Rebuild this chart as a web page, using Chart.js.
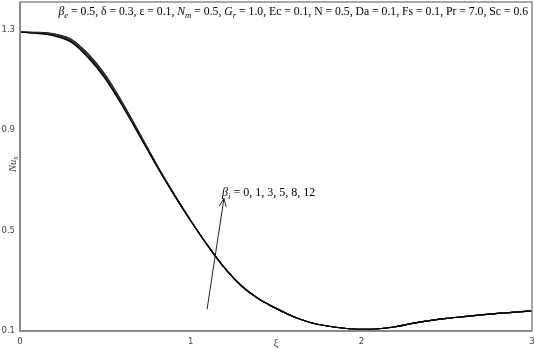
<!DOCTYPE html>
<html>
<head>
<meta charset="utf-8">
<script src="https://cdn.jsdelivr.net/npm/chart.js@4.4.0/dist/chart.umd.min.js"></script>
<style>
  html, body { margin: 0; padding: 0; background: #fff; }
  #chart { display: block; }
</style>
</head>
<body>
<canvas id="chart" width="534" height="349"></canvas>
<script>
'use strict';

// xi along the plate
const xi = [0, 0.1, 0.2, 0.3, 0.4, 0.5, 0.6, 0.7, 0.8, 0.9, 1.0, 1.1, 1.2, 1.3, 1.4, 1.5, 1.6, 1.7, 1.8, 1.9, 2.0, 2.1, 2.2, 2.3, 2.4, 2.5, 2.6, 2.7, 2.8, 2.9, 3.0];

// local Nusselt number for each beta_i
const betaI = [0, 1, 3, 5, 8, 12];
const nuBeta0  = [1.290, 1.285, 1.275, 1.250, 1.188, 1.104, 0.996, 0.878, 0.758, 0.645, 0.539, 0.440, 0.350, 0.278, 0.227, 0.190, 0.158, 0.134, 0.120, 0.111, 0.107, 0.109, 0.117, 0.130, 0.141, 0.150, 0.157, 0.164, 0.170, 0.175, 0.180];
const nuBeta1  = [1.290, 1.286, 1.277, 1.252, 1.191, 1.107, 0.999, 0.880, 0.759, 0.646, 0.539, 0.440, 0.350, 0.278, 0.227, 0.190, 0.158, 0.134, 0.120, 0.111, 0.107, 0.109, 0.117, 0.130, 0.141, 0.150, 0.157, 0.164, 0.170, 0.175, 0.180];
const nuBeta3  = [1.290, 1.287, 1.278, 1.255, 1.194, 1.110, 1.002, 0.882, 0.760, 0.646, 0.540, 0.440, 0.350, 0.278, 0.227, 0.190, 0.158, 0.134, 0.120, 0.111, 0.107, 0.109, 0.117, 0.130, 0.141, 0.150, 0.157, 0.164, 0.170, 0.175, 0.180];
const nuBeta5  = [1.290, 1.287, 1.280, 1.257, 1.197, 1.114, 1.004, 0.884, 0.762, 0.647, 0.540, 0.440, 0.350, 0.278, 0.227, 0.190, 0.158, 0.134, 0.120, 0.111, 0.107, 0.109, 0.117, 0.130, 0.141, 0.150, 0.157, 0.164, 0.170, 0.175, 0.180];
const nuBeta8  = [1.290, 1.288, 1.281, 1.260, 1.200, 1.117, 1.007, 0.886, 0.763, 0.648, 0.540, 0.440, 0.350, 0.278, 0.227, 0.190, 0.158, 0.134, 0.120, 0.111, 0.107, 0.109, 0.117, 0.130, 0.141, 0.150, 0.157, 0.164, 0.170, 0.175, 0.180];
const nuBeta12 = [1.290, 1.289, 1.283, 1.262, 1.203, 1.120, 1.010, 0.888, 0.764, 0.648, 0.540, 0.440, 0.350, 0.278, 0.227, 0.190, 0.158, 0.134, 0.120, 0.111, 0.107, 0.109, 0.117, 0.130, 0.141, 0.150, 0.157, 0.164, 0.170, 0.175, 0.180];
const allSeries = [nuBeta0, nuBeta1, nuBeta3, nuBeta5, nuBeta8, nuBeta12];

const xTicks = [0, 1, 2, 3];
const yTicks = [0.1, 0.5, 0.9, 1.3];

// arrow in data units (tail -> head)
const arrowFrom = { x: 1.096, y: 0.186 };
const arrowTo = { x: 1.195, y: 0.628 };

const datasets = allSeries.map(function (arr, i) {
  return {
    label: 'beta_i = ' + betaI[i],
    data: xi.map(function (x, j) { return { x: x, y: arr[j] }; }),
    borderColor: (i === 0 || i === allSeries.length - 1) ? '#000' : '#333',
    borderWidth: 1.2,
    pointRadius: 0,
    fill: false,
    cubicInterpolationMode: 'monotone'
  };
});

function drawRich(ctx, parts, x, y, size, alignRight) {
  // parts: [text, italic, sub]
  const font = function (p) {
    const s = p[2] ? size * 0.75 : size;
    return (p[1] ? 'italic ' : '') + s + 'px "Liberation Serif", "Times New Roman", serif';
  };
  let total = 0;
  parts.forEach(function (p) { ctx.font = font(p); total += ctx.measureText(p[0]).width; });
  let cx = alignRight ? x - total : x;
  ctx.textAlign = 'left';
  ctx.textBaseline = 'alphabetic';
  parts.forEach(function (p) {
    ctx.font = font(p);
    ctx.fillText(p[0], cx, p[2] ? y + size * 0.22 : y);
    cx += ctx.measureText(p[0]).width;
  });
}

const extras = {
  id: 'extras',
  afterDraw: function (chart) {
    const ctx = chart.ctx;
    const a = chart.chartArea;
    const sx = chart.scales.x, sy = chart.scales.y;
    ctx.save();

    // frame
    ctx.strokeStyle = '#8a8a8a';
    ctx.lineWidth = 1.5;
    ctx.strokeRect(a.left, a.top, a.right - a.left, a.bottom - a.top);
    ctx.lineWidth = 2;
    ctx.beginPath();
    ctx.moveTo(a.left, a.top); ctx.lineTo(a.left, a.bottom); ctx.lineTo(a.right, a.bottom);
    ctx.stroke();

    ctx.fillStyle = '#000';
    drawRich(ctx, [
      ['β', true, false], ['e', true, true],
      [' = 0.5, δ = 0.3, ε = 0.1, ', false, false],
      ['N', true, false], ['m', true, true],
      [' = 0.5, ', false, false],
      ['G', true, false], ['r', true, true],
      [' = 1.0, Ec = 0.1, N = 0.5, Da = 0.1, Fs = 0.1, Pr = 7.0, Sc = 0.6', false, false]
    ], 528, 15, 11.7, true);

    drawRich(ctx, [
      ['β', true, false], ['i', true, true],
      [' = 0, 1, 3, 5, 8, 12', false, false]
    ], 222, 196, 12, false);

    // arrow
    const x0 = sx.getPixelForValue(arrowFrom.x), y0 = sy.getPixelForValue(arrowFrom.y);
    const x1 = sx.getPixelForValue(arrowTo.x), y1 = sy.getPixelForValue(arrowTo.y);
    ctx.strokeStyle = '#222';
    ctx.lineWidth = 1;
    ctx.beginPath();
    ctx.moveTo(x0, y0); ctx.lineTo(x1, y1);
    const ang = Math.atan2(y1 - y0, x1 - x0);
    const h = 9;
    ctx.moveTo(x1, y1);
    ctx.lineTo(x1 - h * Math.cos(ang - 0.4), y1 - h * Math.sin(ang - 0.4));
    ctx.moveTo(x1, y1);
    ctx.lineTo(x1 - h * Math.cos(ang + 0.4), y1 - h * Math.sin(ang + 0.4));
    ctx.stroke();

    // axis titles
    ctx.fillStyle = '#333';
    ctx.save();
    ctx.translate(12, 164);
    ctx.rotate(-Math.PI / 2);
    drawRich(ctx, [['Nu', true, false], ['x', true, true]], -8, 4, 10.5, false);
    ctx.restore();
    ctx.font = '11px "Liberation Serif", serif';
    ctx.textAlign = 'center';
    ctx.fillText('ξ', 276, 346);

    ctx.restore();
  }
};

const ctx = document.getElementById('chart').getContext('2d');
const nuChart = new Chart(ctx, {
  type: 'line',
  data: { datasets: datasets },
  options: {
    responsive: false,
    animation: false,
    devicePixelRatio: 1,
    layout: { padding: { top: 2, right: 2, left: 0, bottom: 0 } },
    plugins: { legend: { display: false }, tooltip: { enabled: false } },
    scales: {
      x: {
        type: 'linear',
        min: 0,
        max: 3,
        afterBuildTicks: function (s) { s.ticks = xTicks.map(function (v) { return { value: v }; }); },
        afterFit: function (s) { s.height = 18; s.paddingLeft = 0; s.paddingRight = 0; },
        grid: { display: false, drawTicks: false },
        border: { display: false },
        ticks: { color: '#444', padding: 6, maxRotation: 0, font: { family: '"DejaVu Sans", sans-serif', size: 8.5 } }
      },
      y: {
        type: 'linear',
        min: 0.1,
        max: 1.41,
        afterBuildTicks: function (s) { s.ticks = yTicks.map(function (v) { return { value: v }; }); },
        afterFit: function (s) { s.width = 20; s.paddingTop = 0; s.paddingBottom = 0; },
        grid: { display: false, drawTicks: false },
        border: { display: false },
        ticks: { color: '#444', padding: 5, font: { family: '"DejaVu Sans", sans-serif', size: 8.5 } }
      }
    }
  },
  plugins: [extras]
});
</script>
</body>
</html>
